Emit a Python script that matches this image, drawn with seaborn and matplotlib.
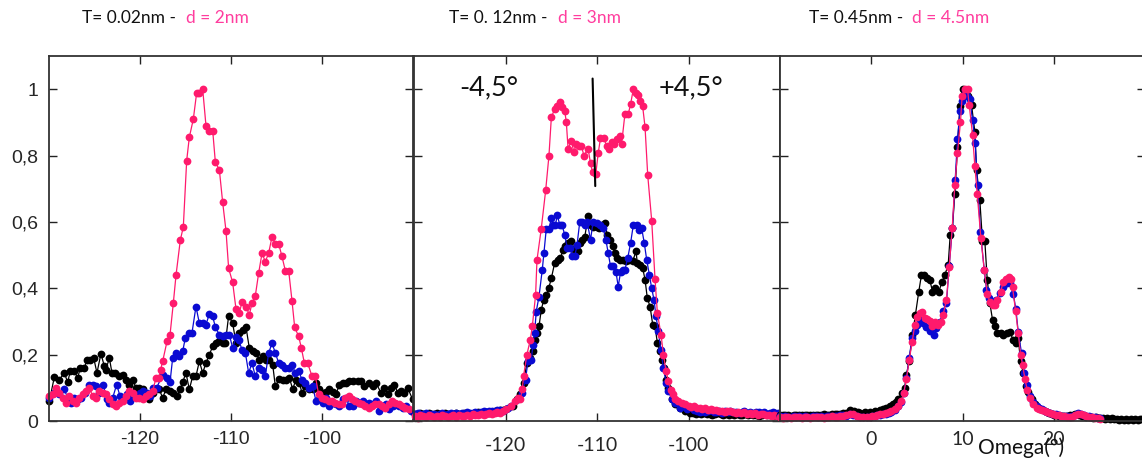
import numpy as np
import matplotlib
matplotlib.use("Agg")
import matplotlib.pyplot as plt
import seaborn as sns

# ---------------- Panel 1 : T = 0.02 nm, d = 2 nm ----------------
p1_black = [(-129.96, .06), (-129.41, .133), (-128.86, .125), (-128.32, .145), (-127.95, .117), (-127.66, .15),
            (-127.22, .15), (-126.85, .13), (-126.56, .16), (-126.12, .16), (-125.82, .185), (-125.46, .185),
            (-125.09, .19), (-124.73, .145), (-124.29, .203), (-123.92, .165), (-123.74, .155), (-123.37, .19),
            (-123.08, .145), (-122.71, .145), (-122.34, .135), (-121.90, .14), (-121.54, .125), (-121.17, .11),
            (-120.81, .125), (-120.44, .1), (-120.07, .1), (-119.71, .095), (-118.97, .065), (-118.53, .085),
            (-117.88, .095), (-117.51, .07), (-117.14, .095), (-116.70, .09), (-116.34, .085), (-115.97, .075),
            (-115.60, .095), (-115.31, .117), (-114.95, .145), (-114.58, .095), (-114.21, .135), (-113.85, .135),
            (-113.48, .18), (-113.11, .145), (-112.75, .175), (-112.38, .2), (-112.01, .225), (-111.65, .235),
            (-111.28, .24), (-110.92, .235), (-110.62, .235), (-110.26, .317), (-109.82, .295), (-109.45, .235),
            (-109.08, .265), (-108.72, .275), (-108.35, .283), (-107.99, .22), (-107.62, .21), (-107.25, .205),
            (-106.89, .185), (-106.52, .195), (-106.15, .185), (-105.79, .185), (-105.42, .17), (-105.13, .105),
            (-104.69, .127), (-104.32, .125), (-103.96, .125), (-103.59, .13), (-103.22, .096), (-102.86, .125),
            (-102.49, .115), (-102.20, .085), (-101.83, .105), (-101.39, .095), (-101.03, .095), (-100.66, .115),
            (-100.29, .095), (-99.93, .085), (-99.56, .086), (-99.19, .095), (-98.83, .086), (-98.46, .08),
            (-98.10, .11), (-97.73, .115), (-97.36, .116), (-97.00, .12), (-96.63, .12), (-96.08, .12),
            (-95.71, .122), (-95.35, .105), (-94.80, .115), (-94.43, .105), (-94.07, .115), (-93.52, .085),
            (-93.15, .1), (-92.78, .08), (-92.42, .1), (-92.05, .11), (-91.68, .085), (-91.32, .09),
            (-90.95, .085), (-90.59, .1), (-90.04, .065)]

p1_blue = [(-129.96, .07), (-129.41, .085), (-128.86, .08), (-128.32, .095), (-127.95, .07), (-127.58, .055),
           (-127.22, .07), (-126.85, .065), (-126.48, .07), (-126.01, .085), (-125.57, .11), (-125.20, .11),
           (-124.84, .105), (-124.47, .085), (-124.03, .11), (-123.66, .065), (-123.37, .055), (-123.00, .07),
           (-122.56, .11), (-122.20, .075), (-121.83, .065), (-121.47, .08), (-121.10, .06), (-120.73, .075),
           (-120.37, .075), (-120.00, .085), (-119.63, .09), (-119.27, .085), (-118.90, .075), (-118.53, .1),
           (-118.17, .1), (-117.51, .14), (-117.07, .13), (-116.70, .117), (-116.41, .19), (-116.04, .205),
           (-115.68, .195), (-115.31, .21), (-115.02, .25), (-114.65, .265), (-114.29, .265), (-113.85, .345),
           (-113.48, .295), (-113.11, .295), (-112.75, .29), (-112.38, .323), (-112.01, .315), (-111.72, .283),
           (-111.28, .26), (-110.92, .255), (-110.55, .26), (-110.18, .26), (-109.82, .22), (-109.45, .253),
           (-109.16, .245), (-108.79, .215), (-108.42, .205), (-108.06, .145), (-107.69, .175), (-107.33, .135),
           (-106.96, .16), (-106.59, .155), (-106.23, .135), (-105.86, .205), (-105.49, .235), (-105.13, .205),
           (-104.76, .175), (-104.40, .17), (-104.03, .16), (-103.66, .16), (-103.30, .17), (-102.93, .145),
           (-102.56, .15), (-102.20, .125), (-101.83, .115), (-101.47, .1), (-101.03, .105), (-100.66, .06),
           (-100.29, .065), (-99.93, .055), (-99.56, .07), (-99.19, .045), (-98.83, .055), (-98.46, .05),
           (-98.10, .045), (-97.73, .065), (-97.36, .07), (-97.00, .045), (-96.63, .045), (-96.26, .06),
           (-95.90, .055), (-95.53, .06), (-95.16, .05), (-94.80, .055), (-94.43, .05), (-94.07, .06),
           (-93.70, .03), (-93.33, .045), (-92.97, .05), (-92.60, .035), (-92.23, .045), (-91.87, .05),
           (-91.50, .045), (-91.14, .04), (-90.77, .045), (-90.22, .03)]

p1_pink = [(-129.96, .075), (-129.60, .08), (-129.23, .1), (-128.86, .085), (-128.50, .07), (-128.13, .055),
           (-127.77, .075), (-127.40, .06), (-127.03, .055), (-126.67, .07), (-126.30, .08), (-125.93, .09),
           (-125.57, .1), (-125.20, .075), (-124.84, .07), (-124.47, .09), (-124.10, .085), (-123.74, .08),
           (-123.37, .065), (-123.00, .05), (-122.64, .045), (-122.27, .055), (-121.90, .06), (-121.54, .075),
           (-121.17, .09), (-120.81, .085), (-120.44, .07), (-120.07, .07), (-119.71, .065), (-119.34, .075),
           (-118.97, .08), (-118.61, .09), (-118.24, .13), (-117.95, .13), (-117.73, .155), (-117.51, .18),
           (-117.03, .24), (-116.70, .26), (-116.34, .355), (-116.04, .44), (-115.57, .545), (-115.24, .585),
           (-114.87, .785), (-114.58, .855), (-114.14, .91), (-113.77, .99), (-113.48, .99), (-113.11, 1.0),
           (-112.75, .89), (-112.38, .875), (-112.01, .875), (-111.72, .78), (-111.28, .757), (-110.92, .66),
           (-110.55, .573), (-110.26, .46), (-109.82, .418), (-109.45, .337), (-109.08, .325), (-108.79, .36),
           (-108.35, .345), (-107.99, .32), (-107.69, .355), (-107.33, .377), (-106.96, .446), (-106.59, .506),
           (-106.23, .48), (-105.86, .506), (-105.49, .556), (-105.13, .534), (-104.76, .534), (-104.40, .496),
           (-104.03, .453), (-103.66, .453), (-103.30, .363), (-103.00, .282), (-102.56, .255), (-102.27, .22),
           (-101.94, .175), (-101.58, .175), (-101.10, .135), (-100.73, .135), (-100.37, .08), (-100.00, .07),
           (-99.63, .065), (-99.26, .06), (-98.90, .06), (-98.53, .055), (-98.17, .05), (-97.80, .05),
           (-97.44, .07), (-97.07, .075), (-96.70, .065), (-96.34, .06), (-95.97, .055), (-95.60, .05),
           (-95.24, .045), (-94.87, .04), (-94.51, .045), (-94.14, .05), (-93.77, .05), (-93.41, .045),
           (-93.04, .04), (-92.67, .05), (-92.31, .06), (-91.94, .055), (-91.58, .05), (-91.21, .045),
           (-90.84, .04), (-90.48, .035), (-89.49, .01)]

# ---------------- Panel 2 : T = 0.12 nm, d = 3 nm ----------------
# flat baselines are sampled on a regular 0.3 deg grid, peaks listed point by point
p2_black_left = [.022, .02, .024, .021, .019, .023, .02, .022, .025, .021, .02, .023, .022, .019, .021, .024, .022,
                 .02, .023, .025, .022, .021, .024, .026, .023, .025, .027, .024, .028, .03, .027, .032, .033]
p2_black_peak = [(-119.93, .035), (-119.20, .045), (-118.76, .065), (-118.39, .08), (-118.03, .115), (-117.66, .175),
                 (-117.29, .19), (-117.00, .21), (-116.82, .245), (-116.56, .265), (-116.34, .285), (-116.09, .335),
                 (-115.83, .365), (-115.54, .38), (-115.28, .4), (-114.99, .43), (-114.63, .476), (-114.26, .486),
                 (-114.00, .49), (-113.71, .516), (-113.46, .526), (-113.16, .536), (-112.80, .541), (-112.43, .516),
                 (-112.07, .511), (-111.88, .536), (-111.59, .546), (-111.33, .556), (-110.97, .618), (-110.71, .591),
                 (-110.42, .586), (-110.05, .586), (-109.76, .581), (-109.40, .591), (-109.14, .598), (-108.88, .561),
                 (-108.59, .546), (-108.30, .526), (-108.04, .506), (-107.79, .49), (-107.50, .486), (-107.20, .486),
                 (-106.84, .481), (-106.47, .486), (-106.11, .481), (-105.74, .511), (-105.59, .476), (-105.30, .471),
                 (-105.01, .461), (-104.75, .426), (-104.50, .37), (-104.20, .345), (-103.91, .29), (-103.66, .285),
                 (-103.40, .235), (-103.11, .21), (-102.92, .185), (-102.67, .16), (-102.45, .125), (-102.19, .1),
                 (-101.83, .065), (-101.46, .05), (-100.91, .04), (-100.37, .03), (-99.82, .025)]
p2_black_right = [.024, .022, .025, .021, .023, .02, .022, .019, .021, .023, .02, .018, .021, .019, .022, .018,
                  .02, .017, .019, .021, .018, .02, .017, .019, .016, .018, .02, .017, .019, .016, .018, .015]

p2_blue_left = [.02, .023, .018, .021, .024, .019, .022, .02, .017, .021, .023, .019, .022, .025, .02, .023, .021, .024,
                .022, .026, .023, .025, .028, .024, .027, .03, .026, .029, .031, .028, .032, .034, .03, .036, .04]
p2_blue_peak = [(-119.38, .045), (-118.65, .065), (-118.17, .085), (-117.81, .125), (-117.55, .18), (-117.18, .185),
                (-117.00, .23), (-116.82, .265), (-116.64, .33), (-116.34, .375), (-115.98, .456), (-115.80, .506),
                (-115.54, .58), (-115.25, .58), (-114.99, .611), (-114.81, .591), (-114.55, .591), (-114.33, .621),
                (-114.08, .591), (-113.82, .591), (-113.53, .561), (-113.24, .52), (-112.91, .52), (-112.72, .496),
                (-112.43, .496), (-112.18, .531), (-111.88, .601), (-111.59, .601), (-111.33, .591), (-111.08, .601),
                (-110.71, .546), (-110.42, .601), (-110.05, .596), (-109.69, .591), (-109.32, .581), (-109.03, .546),
                (-108.78, .506), (-108.52, .466), (-108.23, .466), (-107.93, .45), (-107.68, .405), (-107.42, .45),
                (-107.20, .456), (-106.95, .456), (-106.65, .49), (-106.33, .536), (-106.03, .591), (-105.67, .591),
                (-105.41, .576), (-105.12, .581), (-104.83, .536), (-104.57, .486), (-104.28, .441), (-104.02, .4),
                (-103.77, .365), (-103.55, .315), (-103.29, .27), (-103.03, .215), (-102.74, .16), (-102.45, .115),
                (-102.19, .09), (-101.83, .065), (-101.46, .055), (-100.91, .04), (-100.18, .035), (-99.45, .032)]
p2_blue_right = [.03, .028, .031, .027, .029, .032, .026, .028, .03, .025, .029, .027, .031, .026, .028,
                 .024, .027, .029, .025, .027, .023, .026, .028, .024, .026, .022, .025, .027, .023, .024]

p2_pink_left = [.016, .012, .018, .014, .011, .017, .015, .012, .016, .013, .018, .014, .012, .016, .019, .013, .017,
                .015, .014, .018, .016, .02, .017, .019, .022, .018, .02, .024, .021, .023, .027, .025, .03]
p2_pink_peak = [(-119.93, .035), (-119.38, .045), (-119.01, .06), (-118.65, .07), (-118.39, .065), (-118.17, .095),
                (-118.03, .135), (-117.66, .2), (-117.29, .245), (-117.07, .285), (-116.71, .38), (-116.56, .485),
                (-116.09, .58), (-115.61, .695), (-115.25, .8), (-114.99, .915), (-114.63, .94), (-114.33, .95),
                (-114.08, .96), (-113.78, .945), (-113.53, .935), (-113.35, .9), (-113.16, .82), (-112.80, .845),
                (-112.54, .81), (-112.25, .835), (-111.96, .83), (-111.70, .83), (-111.44, .8), (-110.97, .82),
                (-110.71, .777), (-110.49, .75), (-110.13, .745), (-109.87, .807), (-109.62, .852), (-109.25, .852),
                (-108.96, .83), (-108.67, .82), (-108.41, .84), (-108.15, .835), (-107.79, .85), (-107.50, .858),
                (-107.31, .835), (-106.95, .925), (-106.58, .925), (-106.33, .955), (-106.03, 1.0), (-105.74, .988),
                (-105.48, .983), (-105.30, .965), (-105.01, .948), (-104.75, .886), (-104.46, .742), (-104.02, .603),
                (-103.66, .428), (-103.40, .325), (-103.00, .26), (-102.74, .2), (-102.45, .15), (-102.19, .12),
                (-101.94, .094), (-101.72, .08), (-101.46, .066), (-101.10, .06), (-100.73, .054), (-100.37, .05)]
p2_pink_right = [.046, .042, .044, .038, .04, .036, .038, .034, .035, .032, .034, .03, .031, .028, .03, .029, .027,
                 .025, .027, .024, .026, .022, .024, .021, .023, .019, .021, .02, .017, .019, .016, .018, .015]

# ---------------- Panel 3 : T = 0.45 nm, d = 4.5 nm ----------------
p3_black_left = [.018, .017, .019, .018, .016, .018, .017, .019, .018, .017, .018, .019,
                 .017, .018, .019, .018, .02, .019, .018, .02, .021, .02, .022, .023]
p3_black_peak = [(-2.72, .025), (-2.36, .034), (-1.92, .03), (-1.5, .027), (-1.26, .025), (-0.7, .026), (-0.16, .028),
                 (0.4, .03), (0.93, .033), (1.3, .036), (1.66, .04), (2.0, .045), (2.39, .05), (2.7, .058), (2.94, .065),
                 (3.38, .085), (3.67, .1), (3.86, .14), (4.15, .18), (4.52, .26), (4.84, .32), (5.21, .39), (5.50, .44),
                 (5.80, .44), (6.12, .43), (6.42, .425), (6.71, .39), (7.04, .4), (7.40, .39), (7.77, .42), (8.06, .44),
                 (8.43, .47), (8.65, .56), (8.90, .583), (9.16, .685), (9.45, .825), (9.71, .948), (10.00, 1.0),
                 (10.37, .998), (10.62, .978), (10.99, .953), (11.35, .872), (11.54, .757), (11.90, .665),
                 (12.19, .542), (12.45, .541), (12.71, .426), (13.00, .355), (13.29, .305), (13.55, .285),
                 (13.80, .265), (14.17, .265), (14.46, .26), (14.83, .265), (15.19, .267), (15.56, .245),
                 (15.85, .235), (16.11, .25), (16.36, .18), (16.65, .145), (16.91, .105), (17.20, .086),
                 (17.57, .065), (17.93, .05), (18.48, .035)]
p3_black_right = [.03, .026, .023, .02, .018, .017, .016, .015, .014, .014, .015, .017, .019, .021, .02, .018, .016,
                  .015, .013, .012, .011, .01, .011, .009, .01, .008, .007, .009, .006, .008, .005, .007, .004, .006,
                  .003, .005, .004, .006, .003, .005, .004, .006, .005]

p3_blue_left = [.014, .012, .015, .013, .011, .014, .013, .015, .012, .014, .013, .012,
                .014, .015, .013, .014, .012, .015, .014, .016, .014, .015, .017, .018]
p3_blue_peak = [(-2.72, .016), (-2.36, .021), (-1.99, .019), (-1.55, .014), (-1.2, .013), (-0.9, .012), (-0.5, .013),
                (-0.16, .013), (0.1, .015), (0.38, .015), (0.65, .017), (0.93, .018), (1.3, .02), (1.66, .022),
                (1.95, .025), (2.21, .028), (2.58, .034), (2.94, .044), (3.31, .058), (3.56, .085), (3.86, .13),
                (4.15, .19), (4.48, .25), (4.77, .27), (5.03, .29), (5.39, .305), (5.69, .295), (6.05, .283),
                (6.42, .27), (6.86, .26), (7.15, .28), (7.51, .297), (7.88, .333), (8.24, .355), (8.54, .466),
                (8.90, .583), (9.20, .727), (9.45, .849), (9.71, .933), (9.96, .963), (10.26, .998), (10.51, .98),
                (10.80, .97), (11.10, .907), (11.39, .839), (11.65, .71), (11.97, .57), (12.38, .456), (12.63, .396),
                (12.93, .37), (13.29, .36), (13.66, .365), (14.10, .385), (14.46, .405), (14.83, .417), (15.19, .415),
                (15.56, .384), (15.85, .337), (16.11, .267), (16.47, .205), (16.76, .145), (17.02, .11),
                (17.39, .074), (17.75, .056), (18.12, .044)]
p3_blue_right = [.04, .035, .031, .028, .025, .022, .02, .018, .016, .015, .014, .013, .014, .019, .024, .022,
                 .019, .016, .014, .012, .011, .01, .008]

p3_pink_left = [.012, .01, .013, .011, .009, .012, .011, .013, .01, .012, .011, .009,
                .012, .013, .011, .012, .01, .013, .012, .014, .012, .013, .015, .016]
p3_pink_peak = [(-2.72, .018), (-2.36, .022), (-1.99, .02), (-1.55, .015), (-1.2, .013), (-0.9, .012), (-0.5, .012),
                (-0.16, .013), (0.1, .014), (0.38, .016), (0.65, .017), (0.93, .02), (1.3, .021), (1.66, .024),
                (1.95, .027), (2.21, .03), (2.58, .035), (2.94, .045), (3.31, .06), (3.56, .085), (3.86, .127),
                (4.15, .183), (4.48, .237), (4.77, .29), (5.03, .313), (5.32, .325), (5.58, .327), (5.87, .31),
                (6.16, .307), (6.42, .3), (6.71, .287), (7.04, .297), (7.33, .29), (7.59, .297), (7.88, .32),
                (8.24, .365), (8.54, .463), (8.87, .581), (9.16, .712), (9.45, .807), (9.78, .902), (9.96, .98),
                (10.26, 1.0), (10.55, 1.0), (10.73, .953), (11.10, .863), (11.35, .769), (11.61, .685),
                (12.01, .553), (12.38, .456), (12.71, .384), (13.00, .36), (13.29, .35), (13.55, .35), (13.80, .365),
                (14.17, .39), (14.46, .418), (14.75, .428), (15.05, .434), (15.27, .428), (15.48, .404),
                (15.81, .333), (16.11, .265), (16.36, .2), (16.58, .17), (16.84, .127), (17.09, .094), (17.39, .07),
                (17.75, .052), (18.12, .04)]
p3_pink_right = [.036, .032, .029, .026, .023, .021, .019, .017, .015, .014, .013, .012, .013, .017, .022, .021,
                 .018, .015, .013, .011, .01, .008, .006]

# marker between the two satellite peaks of panel 2
split_line_x = [-110.48, -110.19]
split_line_y = [1.032, 0.708]

y_ticks = [0, 0.2, 0.4, 0.6, 0.8, 1.0]
y_tick_labels = ["0", "0,2", "0,4", "0,6", "0,8", "1"]
x_ticks_side = [-120, -110, -100]
x_ticks_center = [0, 10, 20]

titles = [("T= 0.02nm - ", "d = 2nm"), ("T= 0. 12nm - ", "d = 3nm"), ("T= 0.45nm - ", "d = 4.5nm")]


def assemble(left_range, left_y, peak, right_range, right_y):
    """Join baseline grids and the listed peak points into one scan."""
    xs = list(np.linspace(left_range[0], left_range[1], len(left_y)))
    ys = list(left_y)
    xs += [p[0] for p in peak]
    ys += [p[1] for p in peak]
    if right_y is not None:
        xs += list(np.linspace(right_range[0], right_range[1], len(right_y)))
        ys += list(right_y)
    return np.array(xs), np.array(ys)


def unzip(pairs):
    return np.array([p[0] for p in pairs]), np.array([p[1] for p in pairs])


sns.set_theme(style="white")
plt.rcParams["font.family"] = ["Lato", "DejaVu Sans"]
plt.rcParams["axes.unicode_minus"] = False

BLACK = "#000000"
BLUE = "#0a0ad2"
PINK = "#ff1a6c"
TITLE_PINK = "#ff3d9e"
SPINE = "#333333"

W, H = 1142, 462
fig = plt.figure(figsize=(W / 100, H / 100), dpi=100)


def rect(left, right, top=56, bottom=421):
    return [left / W, (H - bottom) / H, (right - left) / W, (bottom - top) / H]


ax1 = fig.add_axes(rect(49, 413))
ax2 = fig.add_axes(rect(414, 780))
ax3 = fig.add_axes(rect(780, 1145))

panels = [
    (ax1, [unzip(p1_black), unzip(p1_blue), unzip(p1_pink)]),
    (ax2, [assemble((-129.9, -120.3), p2_black_left, p2_black_peak, (-99.5, -90.2), p2_black_right),
           assemble((-129.9, -119.7), p2_blue_left, p2_blue_peak, (-99.1, -90.2), p2_blue_right),
           assemble((-129.9, -120.3), p2_pink_left, p2_pink_peak, (-100.0, -90.3), p2_pink_right)]),
    (ax3, [assemble((-10.0, -3.1), p3_black_left, p3_black_peak, (19.0, 29.7), p3_black_right),
           assemble((-10.0, -3.1), p3_blue_left, p3_blue_peak, (18.4, 25.1), p3_blue_right),
           assemble((-10.0, -3.1), p3_pink_left, p3_pink_peak, (18.4, 25.1), p3_pink_right)]),
]

for ax, scans in panels:
    for (x, y), c in zip(scans, [BLACK, BLUE, PINK]):
        sns.lineplot(x=x, y=y, ax=ax, color=c, marker="o", markersize=5.6, markeredgewidth=0,
                     markeredgecolor=c, linewidth=0.9, sort=False, estimator=None, clip_on=False,
                     legend=False)
    ax.set_ylim(0, 1.1)
    ax.set_xlabel("")
    ax.set_ylabel("")
    ax.tick_params(direction="in", length=5.5, width=1.0, color="#222222",
                   top=True, bottom=True, left=True, right=True)
    for s in ax.spines.values():
        s.set_color(SPINE)
        s.set_linewidth(1.3)

# axis scales and tick labels
ax1.set_xlim(-130, -90)
ax2.set_xlim(-130, -90)
ax3.set_xlim(-10, 30)

ax1.set_yticks(y_ticks, labels=y_tick_labels, fontsize=14, fontfamily="Liberation Sans")
ax1.tick_params(axis="y", pad=8)
for ax in (ax2, ax3):
    ax.set_yticks(y_ticks)
    ax.tick_params(axis="y", labelleft=False)

ax1.set_xticks(x_ticks_side, labels=[str(v) for v in x_ticks_side], fontsize=14,
               fontfamily="Liberation Sans")
ax1.tick_params(axis="x", pad=7.5)
ax2.set_xticks(x_ticks_side, labels=[str(v) for v in x_ticks_side], fontsize=14)
ax2.tick_params(axis="x", pad=11.5)
ax3.set_xticks(x_ticks_center, labels=[str(v) for v in x_ticks_center], fontsize=14)
ax3.tick_params(axis="x", pad=7)

# annotations on panel 2
ax2.plot(split_line_x, split_line_y, color=BLACK, linewidth=1.5)
ax2.text(-125.05, 1.005, "-4,5°", fontsize=19.5, va="center", ha="left", color="#111111")
ax2.text(-103.3, 1.005, "+4,5°", fontsize=19.5, va="center", ha="left", color="#111111")

# axis caption of the right panel
fig.text(978 / W, (H - 448) / H, "Omega(°)", fontsize=15, va="center", ha="left", color="#111111")

# two-coloured panel headings
title_pos = [(82, 186), (449, 558), (809, 912)]
for (black_part, pink_part), (xb, xp) in zip(titles, title_pos):
    fig.text(xb / W, (H - 22.7) / H, black_part, fontsize=12.5, color="#111111", va="baseline")
    fig.text(xp / W, (H - 22.7) / H, pink_part, fontsize=12.5, color=TITLE_PINK, va="baseline")

fig.savefig("out.png", dpi=100)
